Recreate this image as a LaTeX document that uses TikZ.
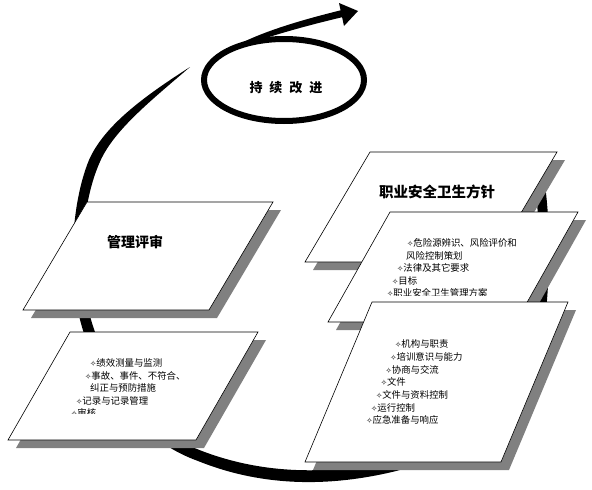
\documentclass[tikz,border=0pt]{standalone}
\usepackage{fontspec}
\setmainfont{Noto Sans CJK SC}
\newfontfamily\symfont{DejaVu Sans}
\usepackage{tikz}

\newcommand{\rombo}{{\symfont\fontsize{7.5}{8}\selectfont ✧}}

\tikzset{
  plane/.style={fill=white, draw=black, line width=0.6pt},
  planeshadow/.style={fill=black!50},
  item/.style={anchor=west, inner sep=0pt, font=\fontsize{9.4}{10}\selectfont},
  titletext/.style={inner sep=0pt, font=\bfseries\fontsize{14.5}{16}\selectfont}
}

\begin{document}
\begin{tikzpicture}[x=1pt, y=-1pt]
    \useasboundingbox (0,0) rectangle (592,490);

    % grande arco dietro i piani
    \fill (190,67) .. controls (143,97) and (104,126) .. (89,160)
        .. controls (71,204) and (67,276) .. (82,327)
        .. controls (100,389) and (142,441) .. (198,461)
        .. controls (265,488) and (332,486) .. (392,472)
        .. controls (484,450) and (541,388) .. (547,300)
        .. controls (551,250) and (549,210) .. (543,170)
        -- (533,170)
        .. controls (539,210) and (541,250) .. (537,300)
        .. controls (531,382) and (476,440) .. (388,462)
        .. controls (328,474) and (265,475) .. (202,451)
        .. controls (148,431) and (110,381) .. (92,323)
        .. controls (77,274) and (81,206) .. (99,164)
        .. controls (112,132) and (148,103) .. (190,67) -- cycle;

    % ellisse e freccia in alto
    \draw[line width=6pt] (284,80) ellipse [x radius=80, y radius=41];
    \node[titletext, font=\bfseries\fontsize{13}{14}\selectfont] (improve) at (286,88)
        {持\hspace{7pt}续\hspace{7pt}改\hspace{7pt}进};
    \fill (226,51) .. controls (252,36) and (285,24) .. (342,10)
        -- (343,17) .. controls (288,30) and (256,41) .. (226,51) -- cycle;
    \fill (339,3) -- (358,11) -- (344,26) -- cycle;

    % piani con ombra
    \foreach \xa/\xb/\ya/\yb/\dx in {370/557/152/262/65, 390/578/212/322/62,
        372/568/302/462/67, 87/273/202/310/64, 70/258/332/440/62} {
        \fill[planeshadow] (\xa+8,\ya+8) -- (\xb+8,\ya+8) -- (\xb-\dx+8,\yb+8) -- (\xa-\dx+8,\yb+8) -- cycle;
        \draw[plane] (\xa,\ya) -- (\xb,\ya) -- (\xb-\dx,\yb) -- (\xa-\dx,\yb) -- cycle;
    }

    % titoli
    \node[titletext] (policy) at (437,192) {职业安全卫生方针};
    \node[titletext, font=\bfseries\fontsize{14}{16}\selectfont] (review) at (135,242) {管理评审};

    % Pianificazione
    \begin{scope}
        \clip (300,230) rectangle (592,295.5);
        \foreach \x/\y/\t [count=\i] in {407/243/{\rombo 危险源辨识、风险评价和},
            406/255.5/{风险控制策划}, 397/268/{\rombo 法律及其它要求},
            392/280.5/{\rombo 目标}, 387/293/{\rombo 职业安全卫生管理方案}}
            \node[item] (plan-\i) at (\x,\y) {\t};
    \end{scope}

    % Attuazione
    \foreach \t [count=\i from 0] in {{\rombo 机构与职责}, {\rombo 培训意识与能力},
        {\rombo 协商与交流}, {\rombo 文件}, {\rombo 文件与资料控制},
        {\rombo 运行控制}, {\rombo 应急准备与响应}}
        \node[item] (impl-\i) at (395-4.8*\i, 344+12.7*\i) {\t};

    % Verifica
    \begin{scope}
        \clip (0,350) rectangle (300,413);
        \foreach \x/\y/\t [count=\i] in {90/363/{\rombo 绩效测量与监测},
            85/375.5/{\rombo 事故、事件、不符合、}, 90/388/{纠正与预防措施},
            76/400.5/{\rombo 记录与记录管理}, 71/413/{\rombo 审核}}
            \node[item] (check-\i) at (\x,\y) {\t};
    \end{scope}
\end{tikzpicture}
\end{document}
